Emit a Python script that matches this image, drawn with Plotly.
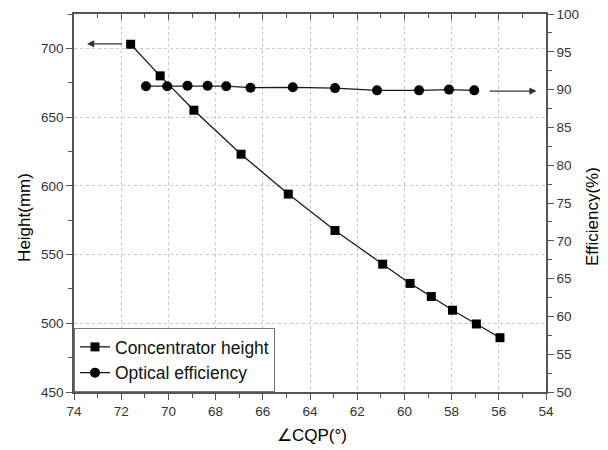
import plotly.graph_objects as go

# Data
angle_height = [71.6, 70.35, 68.92, 66.92, 64.92, 62.94, 60.92, 59.76, 58.86, 57.96, 56.95, 55.95]
height_mm = [703, 680, 655, 623, 594, 567.5, 543, 529, 519.5, 509.5, 499.5, 489.5]

angle_eff = [70.95, 70.05, 69.19, 68.34, 67.55, 66.52, 64.73, 62.94, 61.16, 59.38, 58.11, 57.04]
efficiency = [90.45, 90.45, 90.5, 90.5, 90.45, 90.25, 90.3, 90.2, 89.9, 89.9, 90.0, 89.9]

x_ticks = [74, 72, 70, 68, 66, 64, 62, 60, 58, 56, 54]
left_ticks = [450, 500, 550, 600, 650, 700]
right_ticks = [50, 55, 60, 65, 70, 75, 80, 85, 90, 95, 100]

FONT = "Arial, Liberation Sans, sans-serif"
AX = "#555555"
LINE = "#1a1a1a"

fig = go.Figure()

fig.add_trace(go.Scatter(
    x=angle_height, y=height_mm, name="Concentrator height",
    mode="lines+markers", line=dict(color=LINE, width=1.3),
    marker=dict(symbol="square", size=9, color="black"),
    xaxis="x", yaxis="y"))

fig.add_trace(go.Scatter(
    x=angle_eff, y=efficiency, name="Optical efficiency",
    mode="lines+markers", line=dict(color=LINE, width=1.3),
    marker=dict(symbol="circle", size=10, color="black"),
    xaxis="x", yaxis="y2"))

# invisible trace to ensure top axis is drawn
fig.add_trace(go.Scatter(x=[74], y=[450], mode="markers", marker=dict(opacity=0),
                         showlegend=False, hoverinfo="skip", xaxis="x2", yaxis="y"))

tickfont = dict(family=FONT, size=13.5, color="#333333")
titlefont = dict(family=FONT, size=17, color="black")

# page body has an 8px default margin, so the figure is 8px smaller
fig.update_layout(
    width=600, height=442,
    margin=dict(l=66, r=62, t=6, b=58, autoexpand=False),
    paper_bgcolor="white", plot_bgcolor="white",
    font=dict(family=FONT),
    xaxis=dict(
        range=[74, 54], tickvals=x_ticks, ticktext=[str(v) for v in x_ticks],
        ticks="outside", ticklen=6, tickwidth=1.2, tickcolor=AX,
        minor=dict(ticks="outside", ticklen=4, dtick=1, tickcolor=AX, tickwidth=1.2, showgrid=False),
        showline=True, linecolor=AX, linewidth=1.5,
        showgrid=True, gridcolor="#c8c8c8", griddash="dot", gridwidth=1,
        zeroline=False, tickfont=tickfont, ticklabeloverflow="allow", automargin=False,
    ),
    xaxis2=dict(
        range=[74, 54], overlaying="x", side="top", anchor="y",
        tickvals=x_ticks, showticklabels=False,
        ticks="inside", ticklen=6, tickwidth=1.2, tickcolor=AX,
        minor=dict(ticks="inside", ticklen=4, dtick=1, tickcolor=AX, tickwidth=1.2),
        showline=True, linecolor=AX, linewidth=1.5,
        showgrid=False, zeroline=False, automargin=False,
    ),
    yaxis=dict(
        range=[450, 725], tickvals=left_ticks,
        ticks="outside", ticklen=6, tickwidth=1.2, tickcolor=AX,
        minor=dict(ticks="outside", ticklen=4, dtick=25, tick0=450, tickcolor=AX, tickwidth=1.2, showgrid=False),
        showline=True, linecolor=AX, linewidth=1.5,
        showgrid=True, gridcolor="#c8c8c8", griddash="dot", gridwidth=1,
        zeroline=False, tickfont=tickfont, ticklabeloverflow="allow", automargin=False,
    ),
    yaxis2=dict(
        range=[50, 100], overlaying="y", side="right", anchor="x",
        tickvals=right_ticks,
        ticks="outside", ticklen=6, tickwidth=1.2, tickcolor=AX,
        minor=dict(ticks="outside", ticklen=4, dtick=2.5, tick0=50, tickcolor=AX, tickwidth=1.2),
        showline=True, linecolor=AX, linewidth=1.5,
        showgrid=False, zeroline=False, tickfont=tickfont, ticklabeloverflow="allow", automargin=False,
    ),
    legend=dict(
        x=0, y=0, xanchor="left", yanchor="bottom",
        bgcolor="white", bordercolor="#777777", borderwidth=1,
        font=dict(family=FONT, size=17.5, color="#111111"),
        tracegroupgap=0, itemwidth=30,
    ),
    showlegend=True,
)

# Axis titles
fig.add_annotation(text="∠CQP(°)", xref="paper", yref="paper", x=0.505, y=-0.114,
                   showarrow=False, font=titlefont, xanchor="center", yanchor="middle")
fig.add_annotation(text="Height(mm)", xref="paper", yref="paper", x=-0.104, y=0.463,
                   showarrow=False, font=titlefont, textangle=-90,
                   xanchor="center", yanchor="middle")
fig.add_annotation(text="Efficiency(%)", xref="paper", yref="paper", x=1.0996, y=0.463,
                   showarrow=False, font=titlefont, textangle=-90,
                   xanchor="center", yanchor="middle")

# Arrows indicating the axis each series belongs to
fig.add_annotation(x=73.45, y=703.3, ax=71.9, ay=703.3,
                   xref="x", yref="y", axref="x", ayref="y",
                   showarrow=True, arrowhead=2, arrowsize=1.2, arrowwidth=1.2,
                   arrowcolor="#333333", text="")
fig.add_annotation(x=54.4, y=89.8, ax=56.45, ay=89.8,
                   xref="x", yref="y2", axref="x", ayref="y2",
                   showarrow=True, arrowhead=2, arrowsize=1.2, arrowwidth=1.2,
                   arrowcolor="#333333", text="")

fig.write_html("out.html")
